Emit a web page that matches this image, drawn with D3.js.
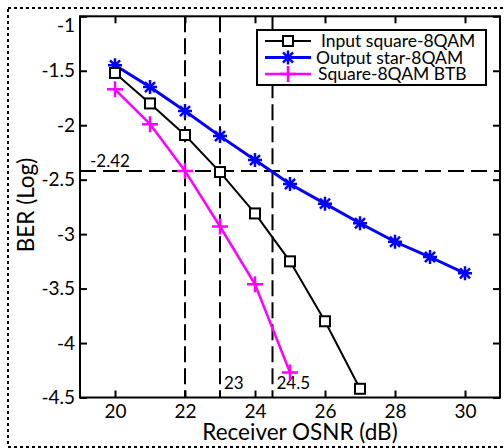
<!DOCTYPE html>
<html>
<head>
<meta charset="utf-8">
<script src="https://cdn.jsdelivr.net/npm/d3@7"></script>
<style>
  body { margin: 0; background: #fff; }
  svg text { font-family: Lato, "Open Sans", sans-serif; fill: #000; }
</style>
</head>
<body>
<div id="chart"></div>
<script>
// data
var osnrInput = [20, 21, 22, 23, 24, 25, 26, 27];
var berInput = [-1.52, -1.80, -2.09, -2.43, -2.81, -3.25, -3.80, -4.42];

var osnrStar = [20, 21, 22, 23, 24, 25, 26, 27, 28, 29, 30];
var berStar = [-1.45, -1.65, -1.87, -2.10, -2.32, -2.54, -2.72, -2.90, -3.07, -3.21, -3.36];

var osnrBtb = [20, 21, 22, 23, 24, 25];
var berBtb = [-1.67, -1.99, -2.42, -2.93, -3.46, -4.27];

var seriesNames = ["Input square-8QAM", "Output star-8QAM", "Square-8QAM BTB"];
var xTicks = [20, 22, 24, 26, 28, 30];
var yTicks = [-1, -1.5, -2, -2.5, -3, -3.5, -4, -4.5];
var refBer = -2.42;
var refOsnr = [22, 23, 24.5];
var refLabels = ["23", "24.5"];

var width = 504, height = 448;
var pLeft = 80, pRight = 500, pTop = 16.3, pBottom = 397.5;

var svg = d3.select("#chart").append("svg")
  .attr("width", width)
  .attr("height", height);

// dotted outer frame
svg.append("rect")
  .attr("x", 8).attr("y", 8)
  .attr("width", 520).attr("height", 439)
  .attr("fill", "none")
  .attr("stroke", "#000")
  .attr("stroke-width", 2)
  .attr("stroke-dasharray", "3,3");

var x = d3.scaleLinear().domain([19, 31]).range([pLeft, pRight]);
var y = d3.scaleLinear().domain([-4.5, -1]).range([pBottom, pTop]);

// axes, ticks inward
var fmt = function (d) { return String(d); };

var gx = svg.append("g").attr("transform", "translate(0," + pBottom + ")")
  .call(d3.axisBottom(x).tickValues(xTicks).tickSizeInner(-7).tickSizeOuter(0).tickPadding(7).tickFormat(fmt));
var gxTop = svg.append("g").attr("transform", "translate(0," + pTop + ")")
  .call(d3.axisTop(x).tickValues(xTicks).tickSizeInner(-7).tickSizeOuter(0).tickFormat(""));
var gy = svg.append("g").attr("transform", "translate(" + pLeft + ",0)")
  .call(d3.axisLeft(y).tickValues(yTicks).tickSizeInner(-7).tickSizeOuter(0).tickPadding(5).tickFormat(fmt));
var gyRight = svg.append("g").attr("transform", "translate(" + pRight + ",0)")
  .call(d3.axisRight(y).tickValues(yTicks).tickSizeInner(-7).tickSizeOuter(0).tickFormat(""));

[gx, gxTop, gy, gyRight].forEach(function (g) {
  g.select(".domain").remove();
  g.selectAll(".tick line").attr("stroke", "#000").attr("stroke-width", 2);
  g.selectAll("text").style("font-size", "19px").attr("fill", "#000");
});
// top label sits a little lower, as in the original
gy.selectAll(".tick").filter(function (d) { return d === -1; })
  .select("text").attr("dy", "0.8em");

svg.append("rect")
  .attr("x", pLeft).attr("y", pTop)
  .attr("width", pRight - pLeft).attr("height", pBottom - pTop)
  .attr("fill", "none")
  .attr("stroke", "#000")
  .attr("stroke-width", 2);

// reference dashed lines
svg.append("line")
  .attr("x1", pLeft).attr("x2", pRight)
  .attr("y1", y(refBer)).attr("y2", y(refBer))
  .attr("stroke", "#000").attr("stroke-width", 2)
  .attr("stroke-dasharray", "16,7");

svg.selectAll(".vref")
  .data(refOsnr)
  .enter()
  .append("line")
  .attr("class", "vref")
  .attr("x1", function (d) { return x(d); })
  .attr("x2", function (d) { return x(d); })
  .attr("y1", pTop).attr("y2", pBottom)
  .attr("stroke", "#000").attr("stroke-width", 2)
  .attr("stroke-dasharray", "16,6");

svg.append("text")
  .attr("x", 90).attr("y", y(refBer) - 4)
  .style("font-size", "17px")
  .text(String(refBer));

svg.selectAll(".vlabel")
  .data(refLabels)
  .enter()
  .append("text")
  .attr("class", "vlabel")
  .attr("x", function (d) { return x(+d) + 4; })
  .attr("y", 389)
  .style("font-size", "17px")
  .text(function (d) { return d; });

// line generator
var line = d3.line()
  .x(function (d) { return x(d[0]); })
  .y(function (d) { return y(d[1]); });

var inputPts = d3.zip(osnrInput, berInput);
var starPts = d3.zip(osnrStar, berStar);
var btbPts = d3.zip(osnrBtb, berBtb);

// marker drawing helpers
function square(g, color) {
  g.append("rect")
    .attr("x", -5).attr("y", -5).attr("width", 10).attr("height", 10)
    .attr("fill", "#fff").attr("stroke", color).attr("stroke-width", 2);
}
function star(g, color) {
  var r = 7, k = r * 0.72;
  g.append("path")
    .attr("d", "M" + (-r) + ",0H" + r + "M0," + (-r) + "V" + r +
      "M" + (-k) + "," + (-k) + "L" + k + "," + k + "M" + (-k) + "," + k + "L" + k + "," + (-k))
    .attr("stroke", color).attr("stroke-width", 2.5).attr("fill", "none");
}
function plus(g, color) {
  var r = 8;
  g.append("path")
    .attr("d", "M" + (-r) + ",0H" + r + "M0," + (-r) + "V" + r)
    .attr("stroke", color).attr("stroke-width", 2.5).attr("fill", "none");
}

var series = [
  { pts: inputPts, color: "#000000", width: 2, marker: square },
  { pts: starPts, color: "#0000ff", width: 3, marker: star },
  { pts: btbPts, color: "#ff00ff", width: 2.5, marker: plus }
];

// draw order: magenta, blue, black on top
[2, 1, 0].forEach(function (i) {
  var s = series[i];
  svg.append("path")
    .datum(s.pts)
    .attr("d", line)
    .attr("fill", "none")
    .attr("stroke", s.color)
    .attr("stroke-width", s.width);
  svg.selectAll(".m" + i)
    .data(s.pts)
    .enter()
    .append("g")
    .attr("class", "m" + i)
    .attr("transform", function (d) { return "translate(" + x(d[0]) + "," + y(d[1]) + ")"; })
    .each(function () { s.marker(d3.select(this), s.color); });
});

// legend
var lg = svg.append("g");
lg.append("rect")
  .attr("x", 257).attr("y", 30)
  .attr("width", 229).attr("height", 55)
  .attr("fill", "#fff").attr("stroke", "#000").attr("stroke-width", 2);

var rowY = [41, 57.5, 74];
var textX = [321, 316, 318];
seriesNames.forEach(function (name, i) {
  var s = series[i];
  lg.append("line")
    .attr("x1", 265).attr("x2", 311)
    .attr("y1", rowY[i]).attr("y2", rowY[i])
    .attr("stroke", s.color).attr("stroke-width", s.width);
  var mg = lg.append("g").attr("transform", "translate(288," + rowY[i] + ")");
  s.marker(mg, s.color);
  lg.append("text")
    .attr("x", textX[i]).attr("y", rowY[i])
    .attr("dy", "0.36em")
    .style("font-size", "17.5px")
    .text(name);
});

// axis titles
svg.append("text")
  .attr("x", 300).attr("y", 440)
  .attr("text-anchor", "middle")
  .style("font-size", "22.5px")
  .text("Receiver OSNR (dB)");

svg.append("text")
  .attr("transform", "translate(34,205) rotate(-90)")
  .attr("text-anchor", "middle")
  .style("font-size", "22.5px")
  .text("BER (Log)");
</script>
</body>
</html>
